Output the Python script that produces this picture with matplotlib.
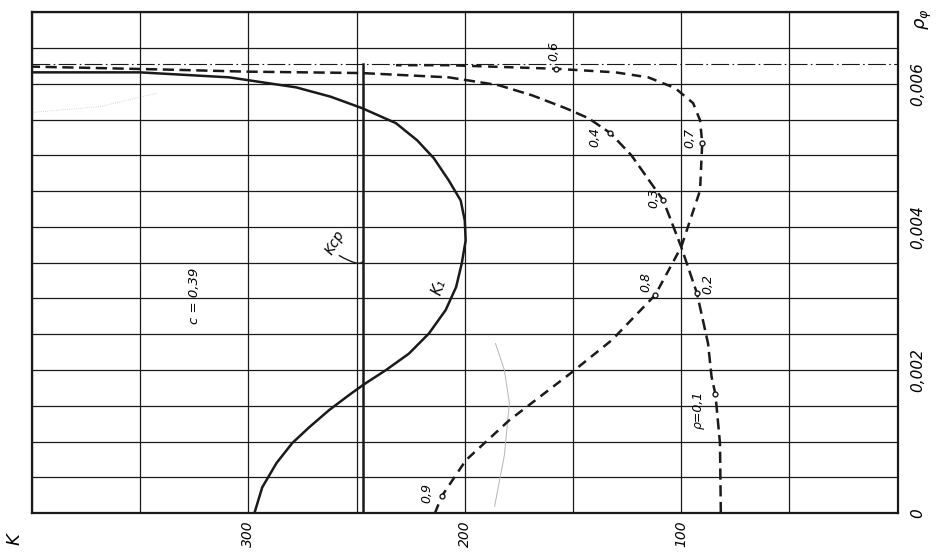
import numpy as np
import matplotlib
matplotlib.use("Agg")
import matplotlib.pyplot as plt
from matplotlib.ticker import MultipleLocator

# K1 curve (solid): K vs rho_phi
k1_K = [297.2, 293.6, 287, 279.7, 271.9, 262.7, 253.5, 246.6, 236.4, 225.8, 216.6, 208.8, 204,
        201.4, 199.6, 200, 201.9, 207.4, 214.3, 222, 231.8, 247.5, 262, 277.9, 308.8, 350.2, 400]
k1_rho = [0, 0.00036, 0.0007, 0.00098, 0.0012, 0.00144, 0.00165, 0.0018, 0.0020, 0.00223, 0.00251,
          0.00284, 0.00316, 0.00349, 0.00381, 0.00409, 0.00437, 0.00465, 0.00496, 0.00521, 0.00545,
          0.00566, 0.00582, 0.00595, 0.00609, 0.00616, 0.00616]

# dashed curve, rho = 0.1 ... 0.4
c1_K = [81.7, 82.1, 84.2, 86, 87.6, 92.7, 100, 108.3, 123, 132.7, 142.9, 153.5, 169, 184.3,
        207.4, 247.5, 301, 339.6, 400]
c1_rho = [0, 0.00098, 0.00166, 0.00191, 0.00237, 0.00307, 0.00372, 0.00437, 0.0050, 0.00531,
          0.00552, 0.00566, 0.00584, 0.00598, 0.00609, 0.00615, 0.00617, 0.0062, 0.00624]

# dashed curve, rho = 0.9 ... 0.6
c2_K = [213.8, 210.6, 199.5, 179.4, 150.9, 132, 112, 100, 91.3, 90.3, 91.3, 94.5, 102.8,
        115.2, 130.4, 158, 207.4, 231.8]
c2_rho = [0, 0.00024, 0.00074, 0.0013, 0.00196, 0.00242, 0.00305, 0.00372, 0.00451, 0.00517,
          0.00549, 0.00573, 0.00594, 0.00609, 0.00616, 0.00621, 0.00626, 0.00626]

# marked points with rho labels
pt_label = ["ρ=0,1", "0,2", "0,3", "0,4", "0,6", "0,7", "0,8", "0,9"]
pt_K = [84.2, 92.7, 108.3, 132.7, 158, 90.3, 112, 210.6]
pt_rho = [0.00166, 0.00307, 0.00437, 0.00531, 0.00621, 0.00517, 0.00305, 0.00024]

# faint pencil strokes
pencil_K = [186.2, 181.7, 179.4, 181.7, 185.8]
pencil_rho = [0.0001, 0.00081, 0.00154, 0.0020, 0.00237]
pencil2_K = [400, 368.7, 342]
pencil2_rho = [0.0056, 0.00568, 0.00587]

K_cp = 247
rho_asym = 0.00627
c_value = "c = 0,39"

k_ticks = [300, 200, 100]
rho_ticks = [0, 0.002, 0.004, 0.006]
rho_ticklabels = ["0", "0,002", "0,004", "0,006"]

ink = "#1a1a1a"

fig = plt.figure(figsize=(9.38, 5.56), dpi=100)
ax = fig.add_axes([0.034, 0.077, 0.923, 0.901])
ax.set_xlim(400, 0)
ax.set_ylim(0, 0.007)

ax.xaxis.set_minor_locator(MultipleLocator(50))
ax.yaxis.set_minor_locator(MultipleLocator(0.0005))
ax.set_xticks(k_ticks)
ax.set_xticklabels([str(k) for k in k_ticks], rotation=90, fontsize=10, style="italic")
ax.yaxis.tick_right()
ax.set_yticks(rho_ticks)
ax.set_yticklabels(rho_ticklabels, rotation=90, fontsize=11, style="italic", va="center")
ax.tick_params(axis="x", which="both", length=0, pad=5)
ax.tick_params(axis="y", which="both", length=0, pad=9)
ax.grid(which="both", color=ink, linewidth=0.9)
for s in ax.spines.values():
    s.set_linewidth(1.6)
    s.set_color(ink)

ax.plot(pencil_K, pencil_rho, color="#b5b5b5", lw=0.7)
ax.plot(pencil2_K, pencil2_rho, color="#c8c8c8", lw=0.6, ls=":")
ax.axhline(rho_asym, color=ink, lw=0.8, dashes=(16, 3, 1.5, 3))
ax.plot([K_cp, K_cp], [0, rho_asym], color=ink, lw=1.8)

ax.plot(k1_K, k1_rho, color=ink, lw=1.8)
ax.plot(c1_K, c1_rho, color=ink, lw=1.8, dashes=(4.5, 2.2))
ax.plot(c2_K, c2_rho, color=ink, lw=1.8, dashes=(3.8, 2.6))
ax.plot(pt_K, pt_rho, "o", ms=3.5, mfc="white", mec=ink, mew=1)

offsets = {"ρ=0,1": (-12, -11), "0,2": (8, 7), "0,3": (-7, 2), "0,4": (-11, -3),
           "0,6": (-1, 13), "0,7": (-9, 4), "0,8": (-7, 9), "0,9": (-11, 2)}
for lab, k, r in zip(pt_label, pt_K, pt_rho):
    dx, dy = offsets[lab]
    ax.annotate(lab, (k, r), xytext=(dx, dy), textcoords="offset points",
                rotation=90, fontsize=9, style="italic", ha="center", va="center")

ax.text(325, 0.00304, c_value, rotation=90, fontsize=9.5, style="italic", ha="center", va="center")
ax.text(260, 0.00378, "Kср", rotation=60, fontsize=10, style="italic", ha="center", va="center")
ax.annotate("", xy=(K_cp, 0.00352), xytext=(258, 0.00360),
            arrowprops=dict(arrowstyle="-", color=ink, lw=1.0, shrinkA=0, shrinkB=0,
                            connectionstyle="angle3,angleA=-30,angleB=60"))
ax.text(212, 0.00316, "K₁", rotation=70, fontsize=10.5, style="italic", ha="center", va="center")

fig.text(0.016, 0.03, "K", rotation=90, fontsize=13, style="italic", ha="center", va="center")
fig.text(0.985, 0.965, "ρ$_φ$", rotation=90, fontsize=13, style="italic", ha="center", va="center")

fig.savefig("out.png", dpi=100)
